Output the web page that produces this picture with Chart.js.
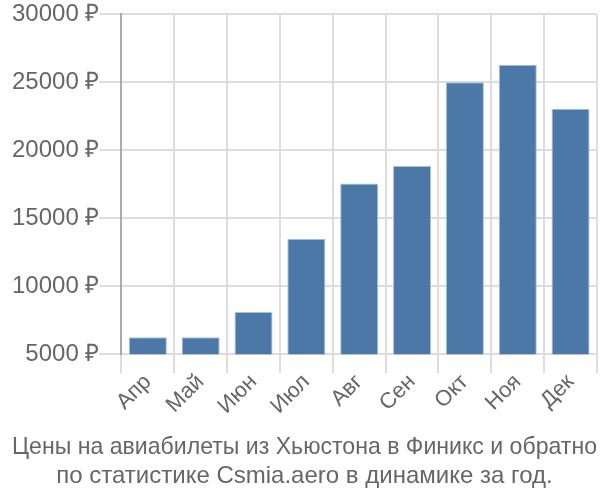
<!DOCTYPE html>
<html><head><meta charset="utf-8">
<script src="https://cdn.jsdelivr.net/npm/chart.js@4/dist/chart.umd.min.js"></script>
<style>html,body{margin:0;padding:0;background:#fff}#w{width:600px;height:500px}</style>
</head><body><div id="w"><canvas id="c"></canvas></div>
<script>
const months = ["Апр","Май","Июн","Июл","Авг","Сен","Окт","Ноя","Дек"];
const prices = [6250, 6250, 8100, 13500, 17550, 18850, 25000, 26300, 23050];
const yTicks = [5000, 10000, 15000, 20000, 25000, 30000];
const titleLines = ["Цены на авиабилеты из Хьюстона в Финикс и обратно", "по статистике Csmia.aero в динамике за год."];

new Chart(document.getElementById('c'), {
  type: 'bar',
  data: { labels: months, datasets: [{ data: prices, backgroundColor: '#4c78a8', borderColor: '#a9c1dc', borderWidth: 1, barPercentage: 0.72, categoryPercentage: 1 }] },
  options: {
    responsive: true, maintainAspectRatio: false, animation: false,
    layout: { padding: { left: 12, right: 3, top: 4, bottom: 9 } },
    plugins: {
      legend: { display: false }, tooltip: { enabled: false },
      title: { display: true, position: 'bottom', text: titleLines, color: '#666', font: { family: 'Liberation Sans', size: 24, weight: 'normal' }, padding: { top: 18, bottom: 0 }, lineHeight: 1.06 }
    },
    scales: {
      x: { grid: { color: '#ddd', lineWidth: 2, offset: true, tickLength: 19 }, border: { color: '#ddd' },
           ticks: { color: '#666', font: { family: 'Liberation Sans', size: 22 }, maxRotation: 45, minRotation: 45, padding: -4 } },
      y: { min: 5000, max: 30000, afterBuildTicks: ax => { ax.ticks = yTicks.map(v => ({ value: v })); },
           grid: { color: '#ddd', lineWidth: 2, tickLength: 22 }, border: { color: '#aaa', width: 2 },
           ticks: { color: '#666', font: { family: 'Liberation Sans', size: 24 }, padding: 0, callback: v => v + ' ₽' } }
    }
  }
});
</script></body></html>
